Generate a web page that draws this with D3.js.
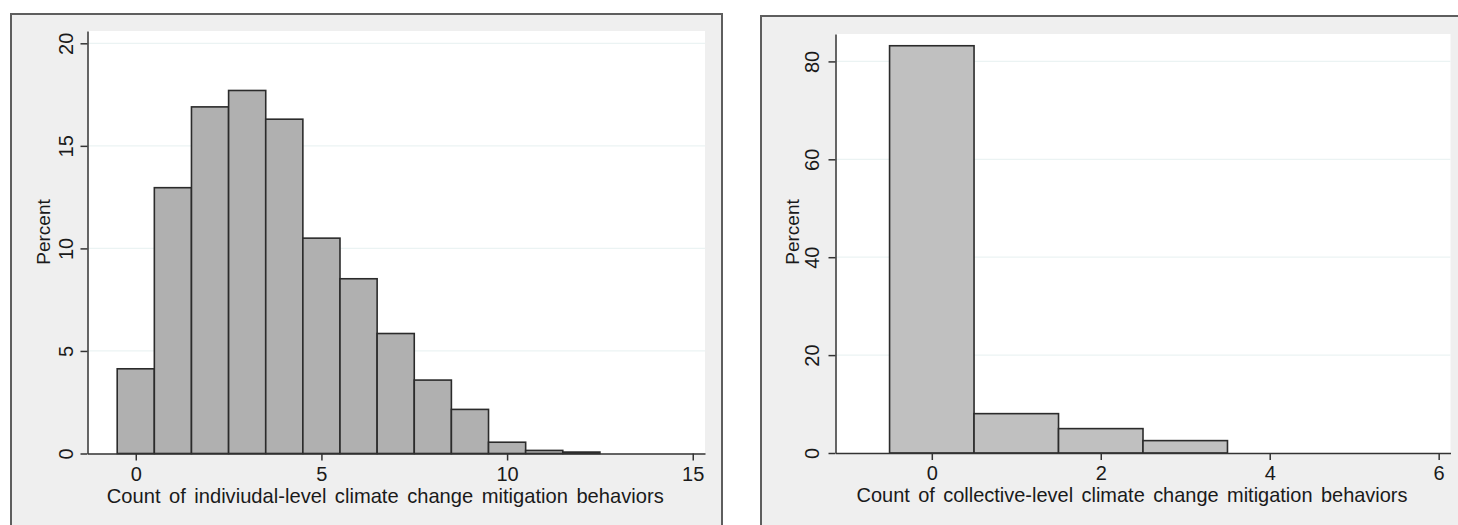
<!DOCTYPE html>
<meta charset="utf-8">
<script src="https://d3js.org/d3.v7.min.js"></script>
<style>
  body { margin: 0; background: #fff; }
  text { font-family: "Liberation Sans", Arial, sans-serif; fill: #1a1a1a; }
</style>
<body>
<div id="chart"></div>
</body>
<script>

    // individual-level histogram (percent per count 0..12)
    var indivBins = [0, 1, 2, 3, 4, 5, 6, 7, 8, 9, 10, 11, 12];
    var indivPct = [4.13, 12.96, 16.9, 17.7, 16.3, 10.5, 8.52, 5.85, 3.58, 2.15, 0.55, 0.15, 0.07];
    var indivXTicks = [0, 5, 10, 15];
    var indivYTicks = [0, 5, 10, 15, 20];

    // collective-level histogram (percent per count 0..3)
    var collBins = [0, 1, 2, 3];
    var collPct = [83.2, 8.04, 4.98, 2.53];
    var collXTicks = [0, 2, 4, 6];
    var collYTicks = [0, 20, 40, 60, 80];

    var W = 1458, H = 525;

    var svg = d3.select("#chart")
        .append("svg")
        .attr("width", W)
        .attr("height", H);

    function panel(cfg) {
        var g = svg.append("g");

        // grey graph region with border
        g.append("rect")
            .attr("x", cfg.frame[0]).attr("y", cfg.frame[1])
            .attr("width", cfg.frame[2]).attr("height", cfg.frame[3])
            .attr("fill", "#efefef")
            .attr("stroke", "#5e5e5e")
            .attr("stroke-width", 2);

        var x = d3.scaleLinear().domain(cfg.xDomain).range([cfg.left, cfg.right]);
        var y = d3.scaleLinear().domain(cfg.yDomain).range([cfg.bottom, cfg.top]);

        // white plot region
        g.append("rect")
            .attr("x", cfg.left).attr("y", cfg.top)
            .attr("width", cfg.right - cfg.left)
            .attr("height", cfg.bottom - cfg.top)
            .attr("fill", "#ffffff");

        // faint gridlines
        g.append("g")
            .selectAll("line")
            .data(cfg.yTicks.filter(function (d) { return d > 0; }))
            .enter()
            .append("line")
            .attr("x1", cfg.left).attr("x2", cfg.right)
            .attr("y1", function (d) { return y(d); })
            .attr("y2", function (d) { return y(d); })
            .attr("stroke", "#ebf3f3")
            .attr("stroke-width", 1.2);

        // bars
        g.append("g")
            .selectAll("rect")
            .data(cfg.bins)
            .enter()
            .append("rect")
            .attr("x", function (d) { return x(d - 0.5); })
            .attr("width", function (d) { return x(d + 0.5) - x(d - 0.5); })
            .attr("y", function (d, i) { return y(cfg.values[i]); })
            .attr("height", function (d, i) { return y(0) - y(cfg.values[i]); })
            .attr("fill", cfg.fill)
            .attr("stroke", "#2b2b2b")
            .attr("stroke-width", 1.6);

        // x axis
        var xa = g.append("g")
            .attr("transform", "translate(0," + cfg.bottom + ")")
            .call(d3.axisBottom(x).tickValues(cfg.xTicks).tickSize(7).tickSizeOuter(0).tickPadding(4));
        xa.selectAll("text")
            .attr("dy", "0.8em")
            .style("font-size", "20px")
            .style("font-family", "'Liberation Sans', Arial, sans-serif");

        // y axis
        var ya = g.append("g")
            .attr("transform", "translate(" + cfg.left + ",0)")
            .call(d3.axisLeft(y).tickValues(cfg.yTicks).tickSize(7).tickSizeOuter(0));
        ya.selectAll("text")
            .attr("text-anchor", "middle")
            .attr("transform", "rotate(-90)")
            .attr("x", 0)
            .attr("y", -cfg.yLabelGap)
            .attr("dy", 0)
            .style("font-size", "20px")
            .style("font-family", "'Liberation Sans', Arial, sans-serif");

        g.selectAll(".domain, .tick line")
            .attr("stroke", "#333")
            .attr("stroke-width", 1.5);

        // axis titles
        g.append("text")
            .attr("x", (cfg.left + cfg.right) / 2 - 11)
            .attr("y", cfg.bottom + 49)
            .attr("text-anchor", "middle")
            .attr("textLength", cfg.titleWidth)
            .attr("lengthAdjust", "spacingAndGlyphs")
            .style("font-size", "21px")
            .style("word-spacing", "3px")
            .text(cfg.xTitle);

        g.append("text")
            .attr("transform", "translate(" + cfg.yTitleX + ",232) rotate(-90)")
            .attr("text-anchor", "middle")
            .style("font-size", "19px")
            .text("Percent");
    }

    panel({
        frame: [11, 14, 711, 540],
        left: 87.5, right: 705, top: 31, bottom: 453.5,
        xDomain: [-1.3, 15.33], yDomain: [0, 20.6],
        bins: indivBins, values: indivPct, fill: "#b0b0b0",
        xTicks: indivXTicks, yTicks: indivYTicks,
        yLabelGap: 15, yTitleX: 50, titleWidth: 557,
        xTitle: "Count of indiviudal-level climate change mitigation behaviors"
    });

    panel({
        frame: [761, 16, 720, 540],
        left: 835.5, right: 1450.5, top: 34, bottom: 453,
        xDomain: [-1.14, 6.14], yDomain: [0, 85.6],
        bins: collBins, values: collPct, fill: "#c0c0c0",
        xTicks: collXTicks, yTicks: collYTicks,
        yLabelGap: 17, yTitleX: 799, titleWidth: 551,
        xTitle: "Count of collective-level climate change mitigation behaviors"
    });

</script>
